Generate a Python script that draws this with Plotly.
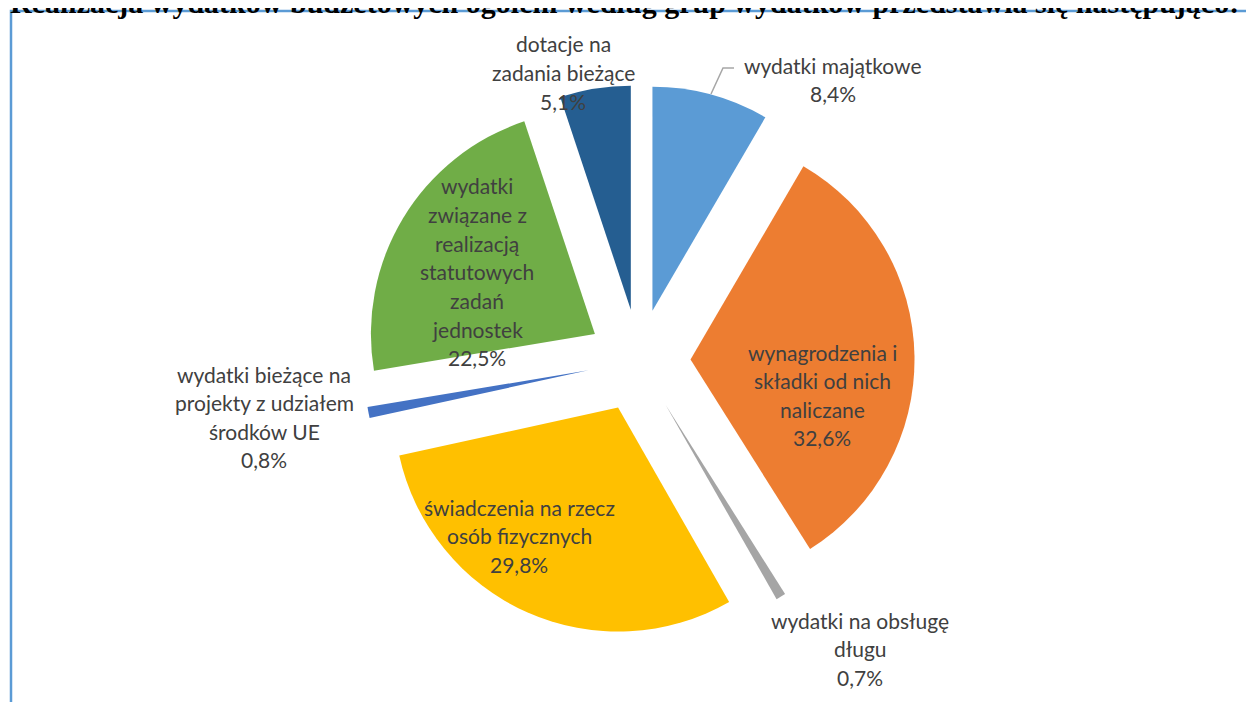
import plotly.graph_objects as go

# data (Excel-style exploded pie)
labels = [
    "wydatki majątkowe",
    "wynagrodzenia i<br>składki od nich<br>naliczane",
    "wydatki na obsługę<br>długu",
    "świadczenia na rzecz<br>osób fizycznych",
    "wydatki bieżące na<br>projekty z udziałem<br>środków UE",
    "wydatki<br>związane z<br>realizacją<br>statutowych<br>zadań<br>jednostek",
    "dotacje na<br>zadania bieżące",
]
shares = [8.4, 32.6, 0.7, 29.8, 0.8, 22.5, 5.1]
colors = ["#5B9BD5", "#ED7D31", "#A5A5A5", "#FFC000", "#4472C4", "#70AD47", "#255E91"]

W, H = 1254, 702
OFF = 8  # page body margin in the browser
M_L, M_R, M_T, M_B = 0, 0, 85 - OFF, 66 + OFF
PLOT_W, PLOT_H = W - M_L - M_R, H - M_T - M_B

# label block placement (screen pixel centre x, first line centre y), one per slice
label_pos = [(833, 65), (822, 352), (860, 620), (519, 507), (264, 374), (477, 186), (563, 44)]
LINE_STEP = 28.6
FONT = "Lato"
TEXT_COLOR = "#404040"


def px(x):
    return (x - OFF - M_L) / PLOT_W


def py(y):
    return (H - M_B - (y - OFF)) / PLOT_H


fig = go.Figure(
    go.Pie(
        labels=[l.replace("<br>", " ") for l in labels],
        values=shares,
        sort=False,
        direction="clockwise",
        rotation=0,
        pull=[0.23] * len(shares),
        marker=dict(colors=colors, line=dict(width=0)),
        textinfo="none",
        hoverinfo="label+percent",
        showlegend=False,
        domain=dict(x=[0.0064, 1], y=[0, 1]),
    )
)

# data labels: name lines + percentage, Excel style with comma decimal
for lab, val, (cx, cy) in zip(labels, shares, label_pos):
    lines = lab.split("<br>") + [f"{val:.1f}%".replace(".", ",")]
    for i, line in enumerate(lines):
        fig.add_annotation(
            text=line,
            x=px(cx),
            y=py(cy + i * LINE_STEP),
            xref="paper",
            yref="paper",
            xanchor="center",
            yanchor="middle",
            showarrow=False,
            font=dict(family=FONT, size=21, color=TEXT_COLOR),
        )

# leader line for the small top slice label
fig.add_shape(
    type="path",
    path=f"M {px(711)} {py(94)} L {px(723)} {py(68)} L {px(734)} {py(68)}",
    xref="paper",
    yref="paper",
    line=dict(color="#A6A6A6", width=1.5),
)

# chart frame (cut by the page on the right and bottom)
fig.add_shape(
    type="rect",
    x0=px(11), y0=py(11), x1=px(W + 20), y1=py(H + 20),
    xref="paper",
    yref="paper",
    line=dict(color="#5B9BD5", width=2.5),
    fillcolor="rgba(0,0,0,0)",
)

# document heading above the chart, partly cut off by the top of the page
fig.add_annotation(
    text="<b>Realizacja wydatków budżetowych ogółem według grup wydatków przedstawia się następująco:</b>",
    x=px(8),
    y=py(21),
    xref="paper",
    yref="paper",
    xanchor="left",
    yanchor="bottom",
    showarrow=False,
    font=dict(family="Liberation Serif", size=30, color="#000000"),
)

fig.update_layout(
    width=W,
    height=H,
    margin=dict(l=M_L, r=M_R, t=M_T, b=M_B),
    paper_bgcolor="white",
    plot_bgcolor="white",
)

fig.write_html("out.html")
